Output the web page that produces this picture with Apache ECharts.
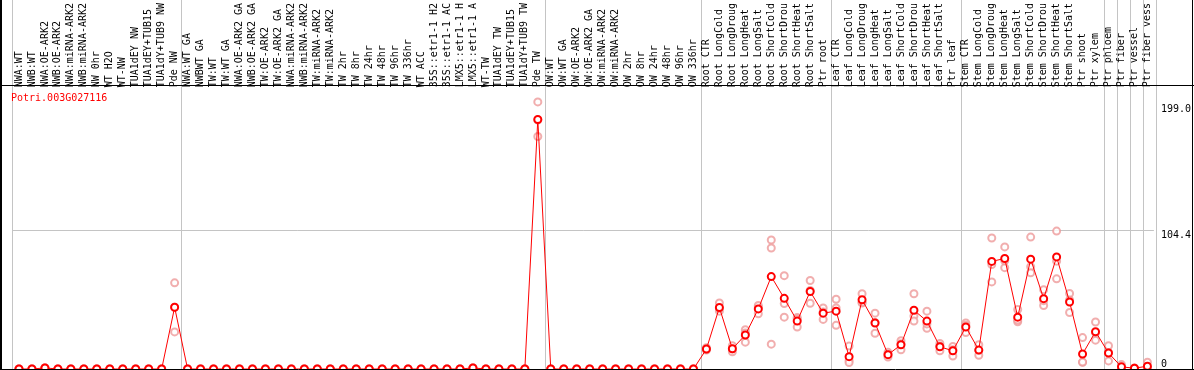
<!DOCTYPE html>
<html><head><meta charset="utf-8">
<script src="https://cdn.jsdelivr.net/npm/echarts@6/dist/echarts.min.js"></script>
<style>html,body{margin:0;padding:0;background:#fff}#c{width:1194px;height:370px}</style>
</head><body><div id="c"></div>
<script>
const geneName = 'Potri.003G027116';
const categories = [
 'NWA:WT','NWB:WT','NWA:OE-ARK2','NWB:OE-ARK2','NWA:miRNA-ARK2','NWB:miRNA-ARK2','NW 0hr','WT H2O','WT-NW','TUA1dEY NW','TUA1dEY+TUB15','TUA1dY+TUB9 NW','Pde NW',
 'NWA:WT GA','NWBWT GA','TW:WT','TW:WT GA','NWA:OE-ARK2 GA','NWB:OE-ARK2 GA','TW:OE-ARK2','TW:OE-ARK2 GA','NWA:miRNA-ARK2','NWB:miRNA-ARK2','TW:miRNA-ARK2','TW:miRNA-ARK2',
 'TW 2hr','TW 8hr','TW 24hr','TW 48hr','TW 96hr','TW 336hr','WT ACC','35S::etr1-1 H2','35S::etr1-1 AC','LMX5::etr1-1 H','LMX5::etr1-1 A','WT-TW','TUA1dEY TW','TUA1dEY+TUB15','TUA1dY+TUB9 TW','Pde TW',
 'OW:WT','OW:WT GA','OW:OE-ARK2','OW:OE-ARK2 GA','OW:miRNA-ARK2','OW:miRNA-ARK2','OW 2hr','OW 8hr','OW 24hr','OW 48hr','OW 96hr','OW 336hr',
 'Root CTR','Root LongCold','Root LongDroug','Root LongHeat','Root LongSalt','Root ShortCold','Root ShortDrou','Root ShortHeat','Root ShortSalt','Ptr root',
 'Leaf CTR','Leaf LongCold','Leaf LongDroug','Leaf LongHeat','Leaf LongSalt','Leaf ShortCold','Leaf ShortDrou','Leaf ShortHeat','Leaf ShortSalt','Ptr leaf',
 'Stem CTR','Stem LongCold','Stem LongDroug','Stem LongHeat','Stem LongSalt','Stem ShortCold','Stem ShortDrou','Stem ShortHeat','Stem ShortSalt','Ptr shoot',
 'Ptr xylem','Ptr phloem','Ptr fiber','Ptr vessel','Ptr fiber vess'
];
const meanValues = [
 0,0,0.8,0,0,0,0,0,0,0,0,0,46.4,
 0,0,0,0,0,0,0,0,0,0,0,0,
 0,0,0,0,0,0,0,0,0,0,0.8,0,0,0,0,187.6,
 0,0,0,0,0,0,0,0,0,0,0,0,
 15.0,46.2,15.2,25.6,45.2,69.5,53.1,36.0,58.3,42.0,
 43.5,9.3,52.1,34.6,10.8,18.2,44.2,36.0,16.7,13.7,
 31.6,14.2,80.9,83.1,39.0,82.6,52.9,84.3,50.4,11.3,
 28.1,12.0,1.6,0.6,2.1
];
const rep1 = [
 0,0,0.8,0,0,0,0,0,0,0,0,0,64.8,
 0,0,0,0,0,0,0,0,0,0,0,0,
 0,0,0,0,0,0,0,0,0,0,0.8,0,0,0,0,200.8,
 0,0,0,0,0,0,0,0,0,0,0,0,
 16.0,49.6,17.5,29.6,46.4,97.0,70.2,38.8,66.5,45.9,
 52.4,17.2,56.6,42.0,12.5,21.2,56.6,43.5,19.2,16.9,
 34.6,18.2,98.5,91.8,44.7,99.2,59.6,103.7,56.8,23.6,
 35.3,17.5,3.3,0.6,5.1
];
const rep2 = [
 0,0,0.8,0,0,0,0,0,0,0,0,0,27.9,
 0,0,0,0,0,0,0,0,0,0,0,0,
 0,0,0,0,0,0,0,0,0,0,0.8,0,0,0,0,174.8,
 0,0,0,0,0,0,0,0,0,0,0,0,
 14.2,43.5,13.0,20.2,41.5,91.0,49.2,31.6,49.4,37.3,
 45.9,6.3,49.6,26.9,9.0,14.5,39.8,30.6,13.7,9.8,
 27.4,10.3,78.6,76.2,35.5,76.9,47.7,81.1,42.5,5.1,
 21.7,6.1,0.8,0.5,0.6
];
const rep3 = [
 0,0,0.8,0,0,0,0,0,0,0,0,0,46.5,
 0,0,0,0,0,0,0,0,0,0,0,0,
 0,0,0,0,0,0,0,0,0,0,0.8,0,0,0,0,187.2,
 0,0,0,0,0,0,0,0,0,0,0,0,
 14.8,45.5,15.1,27.0,47.7,18.7,39.0,37.6,59.0,42.8,
 32.8,4.8,50.1,34.9,10.9,18.9,36.0,33.9,17.2,14.4,
 32.8,14.1,65.5,81.3,36.8,72.4,51.4,67.8,51.9,5.2,
 27.3,12.4,0.7,0.7,0.6
];
const yTickLabels = [0, 104.4, 199.0];
const gridLineValue = 104.4;
const separatorsBefore = [0, 13, 41, 53, 63, 73, 84, 85, 86, 87];

const FONT = '"DejaVu Sans Mono", monospace';
const chart = echarts.init(document.getElementById('c'), null, {renderer: 'canvas'});
const sepInterval = (i) => separatorsBefore.indexOf(i) >= 0;
const repStyle = {color: '#ee9a9a', borderColor: '#ee9a9a', borderWidth: 1};
function repSeries(arr) {
  return {type: 'scatter', xAxisIndex: 1, yAxisIndex: 1, data: arr, symbol: 'emptyCircle',
    symbolSize: 7, itemStyle: repStyle, z: 2, silent: true};
}
const option = {
  animation: false,
  backgroundColor: '#fff',
  title: {text: geneName, left: 6, top: 88,
    textStyle: {color: '#ff0000', fontFamily: FONT, fontSize: 10, fontWeight: 'normal'}},
  grid: [
    {left: 12.5, right: 37.5, top: 0, bottom: 0, show: false},
    {left: 12.5, right: 37.5, top: 85, bottom: 1, show: false}
  ],
  xAxis: [
    {type: 'category', gridIndex: 0, data: categories, axisLine: {show: false}, axisTick: {show: false},
      axisLabel: {show: false},
      splitLine: {show: true, interval: sepInterval, lineStyle: {color: '#c4c4c4', width: 1}}},
    {type: 'category', gridIndex: 1, position: 'top', data: categories,
      axisLine: {show: false}, axisTick: {show: false},
      axisLabel: {rotate: 90, margin: 2, interval: 0, fontFamily: FONT, fontSize: 10, color: '#000'},
      splitLine: {show: false}}
  ],
  yAxis: [
    {type: 'value', gridIndex: 0, show: false},
    {type: 'value', gridIndex: 1, position: 'right', min: 0, max: 210.3,
      axisLine: {show: false}, axisTick: {show: false}, splitLine: {show: false},
      axisLabel: {customValues: yTickLabels, formatter: v => (v === 0 ? '0' : v.toFixed(1)),
        margin: 7, fontFamily: FONT, fontSize: 10, color: '#000',
        verticalAlign: 'top', verticalAlignMinLabel: 'bottom'}}
  ],
  graphic: [
    {type: 'line', shape: {x1: 1, y1: 0, x2: 1, y2: 370}, style: {stroke: '#000', lineWidth: 2}, z: 100},
    {type: 'line', shape: {x1: 1192.5, y1: 0, x2: 1192.5, y2: 370}, style: {stroke: '#000', lineWidth: 1}, z: 100},
    {type: 'line', shape: {x1: 0, y1: 85.5, x2: 1194, y2: 85.5}, style: {stroke: '#000', lineWidth: 1}, z: 100},
    {type: 'line', shape: {x1: 0, y1: 369.5, x2: 1194, y2: 369.5}, style: {stroke: '#000', lineWidth: 1}, z: 100}
  ],
  series: [
    repSeries(rep1), repSeries(rep2), repSeries(rep3),
    {type: 'line', xAxisIndex: 1, yAxisIndex: 1, data: meanValues, symbol: 'emptyCircle', symbolSize: 7,
      lineStyle: {color: '#ff0000', width: 1}, itemStyle: {color: '#ff0000', borderColor: '#ff0000', borderWidth: 1.6},
      z: 3, silent: true,
      markLine: {silent: true, symbol: 'none', label: {show: false},
        lineStyle: {color: '#c4c4c4', type: 'solid', width: 1}, data: [{yAxis: gridLineValue}], z: 1}}
  ]
};
chart.setOption(option);
</script></body></html>
